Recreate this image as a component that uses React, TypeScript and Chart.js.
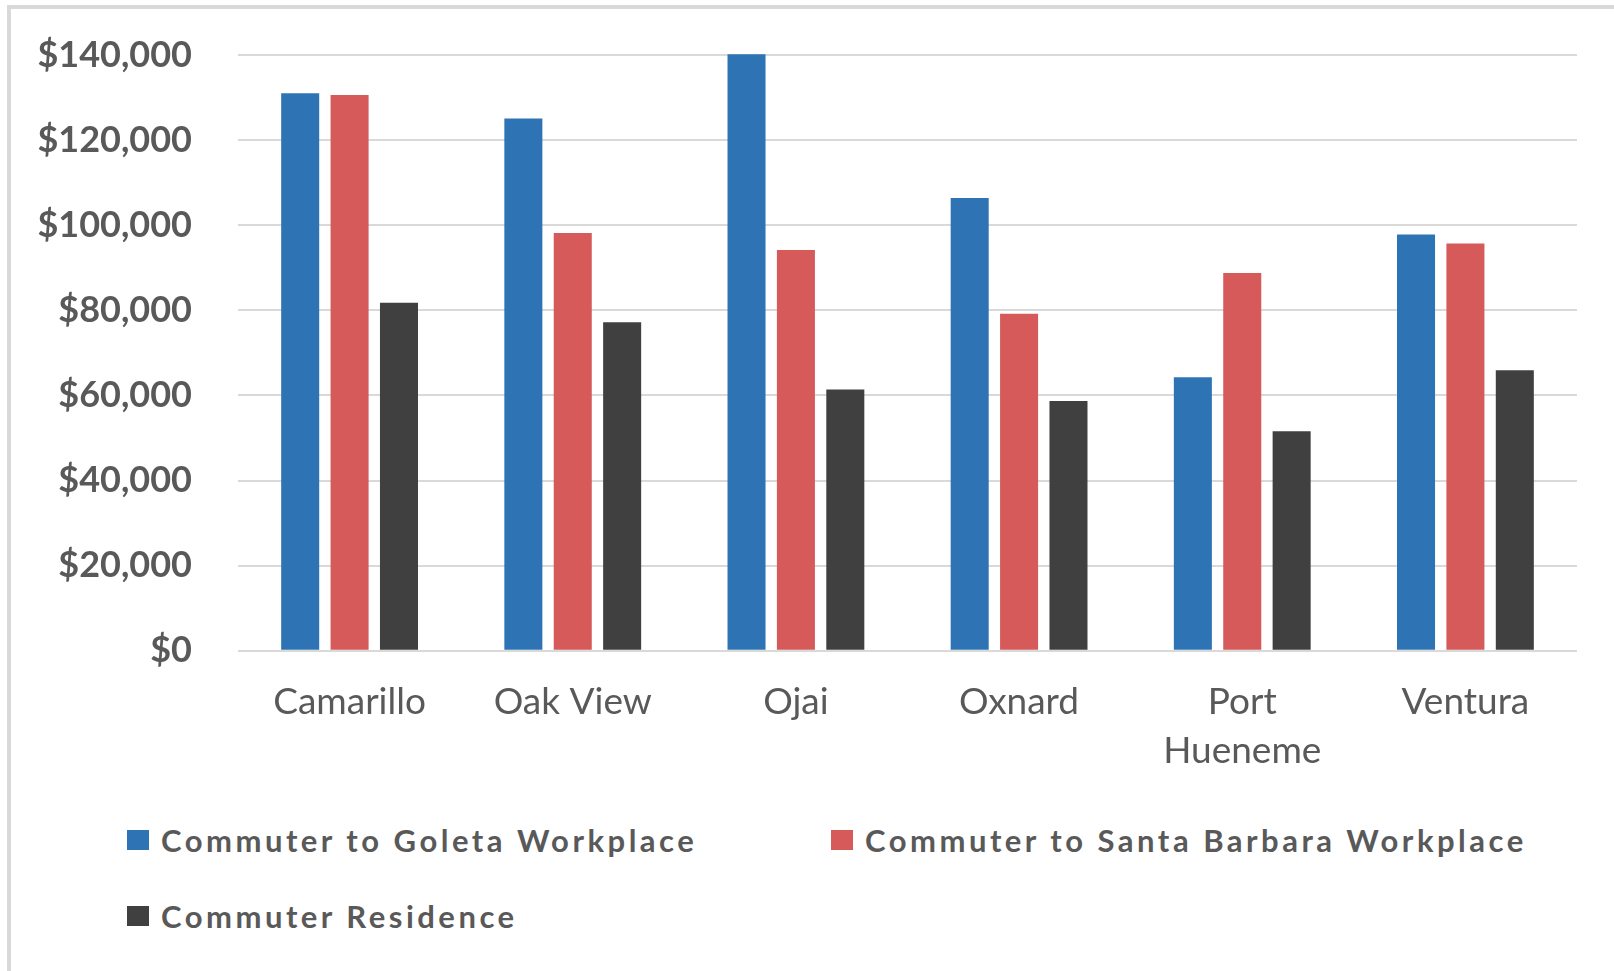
import React, { useEffect, useRef } from "react";
import { Chart, registerables } from "chart.js";

Chart.register(...registerables);

// ---- Data ----
const categories: (string | string[])[] = ["Camarillo", "Oak View", "Ojai", "Oxnard", ["Port", "Hueneme"], "Ventura"];
const seriesNames = [
  "Commuter to Goleta Workplace",
  "Commuter to Santa Barbara Workplace",
  "Commuter Residence",
];
const goletaWorkplace = [131000, 125100, 140200, 106400, 64300, 97800];
const santaBarbaraWorkplace = [130600, 98200, 94200, 79200, 88800, 95700];
const commuterResidence = [81800, 77200, 61400, 58700, 51600, 65900];
const seriesColors = ["#2E74B5", "#D65A5A", "#404040"];
const yMin = 0;
const yMax = 140000;
const yStep = 20000;

const TEXT = "#595959";

export default function App() {
  const canvasRef = useRef<HTMLCanvasElement | null>(null);

  useEffect(() => {
    if (!canvasRef.current) return;
    const seriesValues = [goletaWorkplace, santaBarbaraWorkplace, commuterResidence];
    const chart = new Chart(canvasRef.current, {
      type: "bar",
      data: {
        labels: categories,
        datasets: seriesNames.map((name, i) => ({
          label: name,
          data: seriesValues[i],
          backgroundColor: seriesColors[i],
          borderWidth: 0,
          categoryPercentage: 0.664,
          barPercentage: 0.77,
          clip: false as any,
        })),
      },
      options: {
        responsive: false,
        animation: false,
        devicePixelRatio: 1,
        layout: { padding: { top: 55, right: 37, left: 0, bottom: 0 } },
        plugins: {
          legend: { display: false },
          tooltip: { enabled: false },
        },
        scales: {
          x: {
            grid: { display: false },
            border: { display: false },
            ticks: {
              color: TEXT,
              font: { family: "Lato", size: 37, weight: "normal", lineHeight: 1.34 },
              padding: 18,
              maxRotation: 0,
              autoSkip: false,
            },
          },
          y: {
            min: yMin,
            max: yMax,
            grid: { color: "#d9d9d9", lineWidth: 2, drawTicks: false },
            border: { display: false },
            afterFit: (scale: any) => {
              scale.width = 238;
              scale.paddingTop = 0;
              scale.paddingBottom = 0;
            },
            ticks: {
              stepSize: yStep,
              color: TEXT,
              padding: 46,
              font: { family: "Lato", size: 36, weight: "bold" },
              callback: (v: any) => "$" + Number(v).toLocaleString("en-US"),
            },
          },
        },
      },
    });
    return () => chart.destroy();
  }, []);

  return (
    <div
      style={{
        position: "fixed",
        left: 0,
        top: 0,
        width: 1614,
        height: 971,
        background: "#fff",
        overflow: "hidden",
      }}
    >
      <div
        style={{
          position: "absolute",
          left: 7,
          top: 5,
          width: 1700,
          height: 1100,
          border: "4px solid #d9d9d9",
          boxSizing: "border-box",
        }}
      />
      <canvas
        ref={canvasRef}
        width={1614}
        height={794}
        style={{ position: "absolute", left: 0, top: 0, width: 1614, height: 794 }}
      />
      <div
        style={{
          position: "absolute",
          left: 127,
          top: 817,
          display: "grid",
          gridTemplateColumns: "704px auto",
          rowGap: 30,
          fontFamily: "Lato",
          fontWeight: "bold",
          fontSize: 31,
          color: TEXT,
          letterSpacing: "3.5px",
        }}
      >
        {seriesNames.map((name, i) => (
          <div key={name} style={{ display: "flex", alignItems: "center", height: 46, whiteSpace: "nowrap" }}>
            <span
              style={{
                display: "inline-block",
                width: 22,
                height: 20,
                background: seriesColors[i],
                marginRight: 12,
                flex: "none",
              }}
            />
            <span>{name}</span>
          </div>
        ))}
      </div>
    </div>
  );
}
